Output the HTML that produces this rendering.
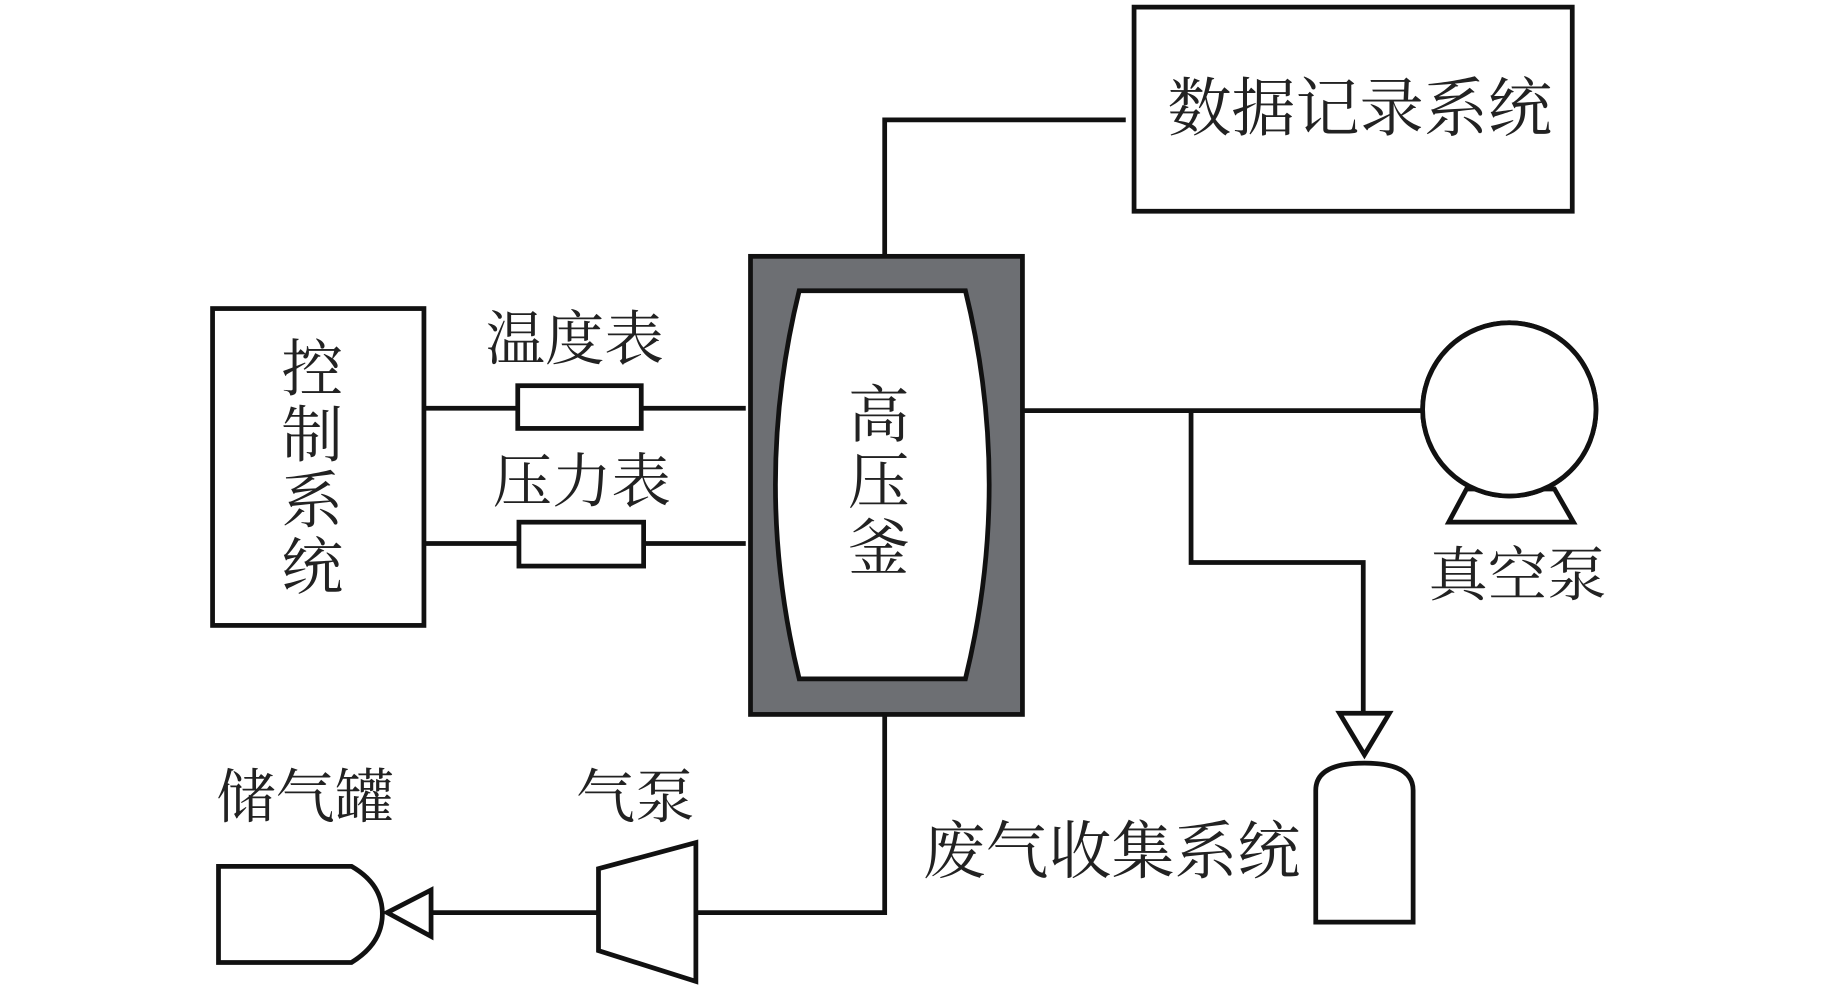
<!DOCTYPE html>
<html><head><meta charset="utf-8"><style>
html,body{margin:0;padding:0;background:#fff;}
svg{display:block;}
text{font-family:"Liberation Serif","Noto Serif CJK SC","Noto Sans CJK SC",serif;fill:#222;text-anchor:middle;dominant-baseline:central;}
</style></head><body>
<svg width="1843" height="985" viewBox="0 0 1552 830" preserveAspectRatio="none">
<g fill="none" stroke="#111" stroke-width="4">
<rect x="955" y="6" width="369" height="172" fill="#fff"/>
<polyline points="745,216 745,101 948,101"/>
<rect x="632" y="216" width="229" height="386" fill="#6d6f73"/>
<path d="M673,245 L813,245 Q853,408 813,572 L673,572 Q633,408 673,245 Z" fill="#fff"/>
<rect x="179" y="260" width="178" height="267" fill="#fff"/>
<line x1="357" y1="344" x2="436" y2="344"/>
<rect x="436" y="325" width="104" height="36" fill="#fff"/>
<line x1="540" y1="344" x2="628" y2="344"/>
<line x1="357" y1="458" x2="437" y2="458"/>
<rect x="437" y="440" width="105" height="37" fill="#fff"/>
<line x1="542" y1="458" x2="628" y2="458"/>
<line x1="861" y1="346" x2="1198" y2="346"/>
<circle cx="1271" cy="345" r="73" fill="#fff"/>
<polygon points="1235,412 1220,440 1325,440 1309,412"/>
<circle cx="1271" cy="345" r="73" fill="#fff"/>
<polyline points="1003,346 1003,474 1148,474 1148,601"/>
<polygon points="1128,601 1170,601 1149,636" fill="#fff"/>
<path d="M1108,777 L1108,666 Q1108,643 1149,643 Q1190,643 1190,666 L1190,777 Z" fill="#fff"/>
<polyline points="745,602 745,769 586,769"/>
<polygon points="504,732 586,710 586,827 504,801" fill="#fff"/>
<line x1="504" y1="769" x2="340" y2="769"/>
<polygon points="363,750 363,789 326,769" fill="#fff"/>
<path d="M184,730 L296,730 Q322,745 322,770 Q322,795 296,811 L184,811 Z" fill="#fff"/>
</g>
<g font-size="52">
<text x="1145" y="92" font-size="54">数据记录系统</text>
<text x="740" y="351">高</text><text x="740" y="407">压</text><text x="740" y="463">釜</text>
<text x="263" y="312">控</text><text x="263" y="368">制</text><text x="263" y="423">系</text><text x="263" y="479">统</text>
<text x="484" y="286" font-size="50">温度表</text>
<text x="490" y="406" font-size="50">压力表</text>
<text x="1278" y="485" font-size="50">真空泵</text>
<text x="936" y="718" font-size="53">废气收集系统</text>
<text x="535" y="672" font-size="50">气泵</text>
<text x="257" y="672" font-size="50">储气罐</text>
</g>
</svg>
</body></html>
